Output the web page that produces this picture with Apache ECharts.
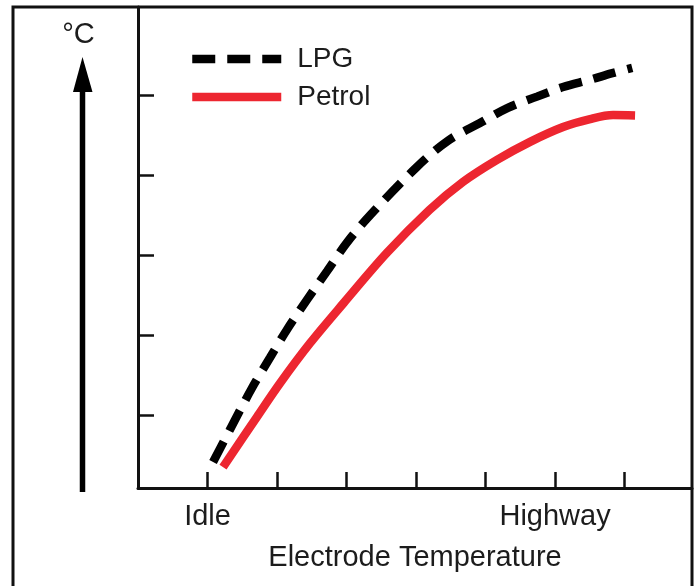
<!DOCTYPE html>
<html>
<head>
<meta charset="utf-8">
<script src="https://cdn.jsdelivr.net/npm/echarts@6/dist/echarts.min.js"></script>
<style>
html,body{margin:0;padding:0;background:#fff;}
#chart{width:699px;height:586px;}
</style>
</head>
<body>
<div id="chart"></div>
<script>
// ---- data ----
var seriesNames = ['LPG', 'Petrol'];
var lpgX = [1.08, 1.32, 1.64, 1.90, 2.14, 2.43, 2.72, 3.00, 3.34, 4.01, 4.46, 4.92, 5.32, 5.74, 6.115, 6.50, 6.81, 7.11];
var lpgY = [0.415, 0.815, 1.34, 1.72, 2.065, 2.44, 2.80, 3.15, 3.50, 4.10, 4.43, 4.65, 4.84, 4.98, 5.10, 5.19, 5.27, 5.34];
var petrolX = [1.223, 1.712, 2.043, 2.475, 2.957, 3.583, 4.194, 4.676, 5.165, 5.640, 6.115, 6.504, 6.835, 7.151];
var petrolY = [0.35, 0.98, 1.40, 1.90, 2.40, 3.03, 3.565, 3.915, 4.19, 4.415, 4.60, 4.70, 4.75, 4.745];
var xTickValues = [1, 2, 3, 4, 5, 6, 7];
var xLabelValues = [1, 6];
var xLabelTexts = ['Idle', 'Highway'];
var yTickValues = [1, 2, 3, 4, 5];
var xAxisTitle = 'Electrode Temperature';
var yAxisTitle = '°C';

function pairs(xs, ys) { return xs.map(function (x, i) { return [x, ys[i]]; }); }

var FONT = '"Liberation Sans", Arial, Helvetica, sans-serif';
var TXT = '#1c1c1c';
var chart = echarts.init(document.getElementById('chart'), null, {renderer: 'canvas'});
chart.setOption({
  animation: false,
  backgroundColor: '#ffffff',
  grid: {left: 138, right: 7, top: 7, bottom: 98, containLabel: false, outerBoundsMode: 'none'},
  legend: {
    data: seriesNames,
    orient: 'vertical',
    left: 188,
    top: 45,
    padding: 0,
    itemWidth: 89,
    itemHeight: 20,
    itemGap: 10,
    selectedMode: false,
    lineStyle: {width: 8.5},
    itemStyle: {opacity: 0, borderWidth: 0},
    textStyle: {fontSize: 28, lineHeight: 28, color: TXT, fontFamily: FONT, padding: [0, 0, 0, 11]}
  },
  xAxis: {
    type: 'value',
    min: 0,
    max: 7.97,
    name: xAxisTitle,
    nameLocation: 'middle',
    nameGap: 55,
    nameTextStyle: {fontSize: 29, color: TXT, fontFamily: FONT},
    axisLine: {show: true, onZero: false, lineStyle: {color: '#111', width: 3}},
    axisTick: {show: true, inside: true, length: 16, customValues: xTickValues, lineStyle: {color: '#111', width: 2.5}},
    axisLabel: {
      show: true,
      customValues: xLabelValues,
      margin: 14,
      fontSize: 29,
      color: TXT,
      fontFamily: FONT,
      formatter: function (v) {
        var i = xLabelValues.indexOf(v);
        return i >= 0 ? xLabelTexts[i] : '';
      }
    },
    splitLine: {show: false}
  },
  yAxis: {
    type: 'value',
    min: 0.09,
    max: 6.1,
    axisLine: {show: true, onZero: false, lineStyle: {color: '#111', width: 3}},
    axisTick: {show: true, inside: true, length: 16, customValues: yTickValues, lineStyle: {color: '#111', width: 2.5}},
    axisLabel: {show: false},
    splitLine: {show: false}
  },
  graphic: [
    {type: 'rect', shape: {x: 13, y: 7, width: 679, height: 620}, style: {fill: 'none', stroke: '#111', lineWidth: 3}, z: 100, silent: true},
    {type: 'line', shape: {x1: 82.5, y1: 492, x2: 82.5, y2: 88}, style: {stroke: '#000', lineWidth: 5.5}, silent: true},
    {type: 'polygon', shape: {points: [[82.5, 57], [73, 92], [92.5, 92]]}, style: {fill: '#000'}, silent: true},
    {type: 'text', x: 78.5, y: 35, style: {text: yAxisTitle, font: '29px ' + FONT, fill: TXT, textAlign: 'center', textVerticalAlign: 'middle'}, silent: true}
  ],
  series: [
    {
      name: seriesNames[0],
      type: 'line',
      data: pairs(lpgX, lpgY),
      smooth: 0.33,
      symbol: 'none',
      color: '#000000',
      lineStyle: {color: '#000000', width: 8.5, type: [23, 12], cap: 'butt'},
      z: 3
    },
    {
      name: seriesNames[1],
      type: 'line',
      data: pairs(petrolX, petrolY),
      smooth: 0.33,
      symbol: 'none',
      color: '#ED2630',
      lineStyle: {color: '#ED2630', width: 8.5, type: 'solid', cap: 'butt'},
      z: 2
    }
  ]
});
</script>
</body>
</html>
